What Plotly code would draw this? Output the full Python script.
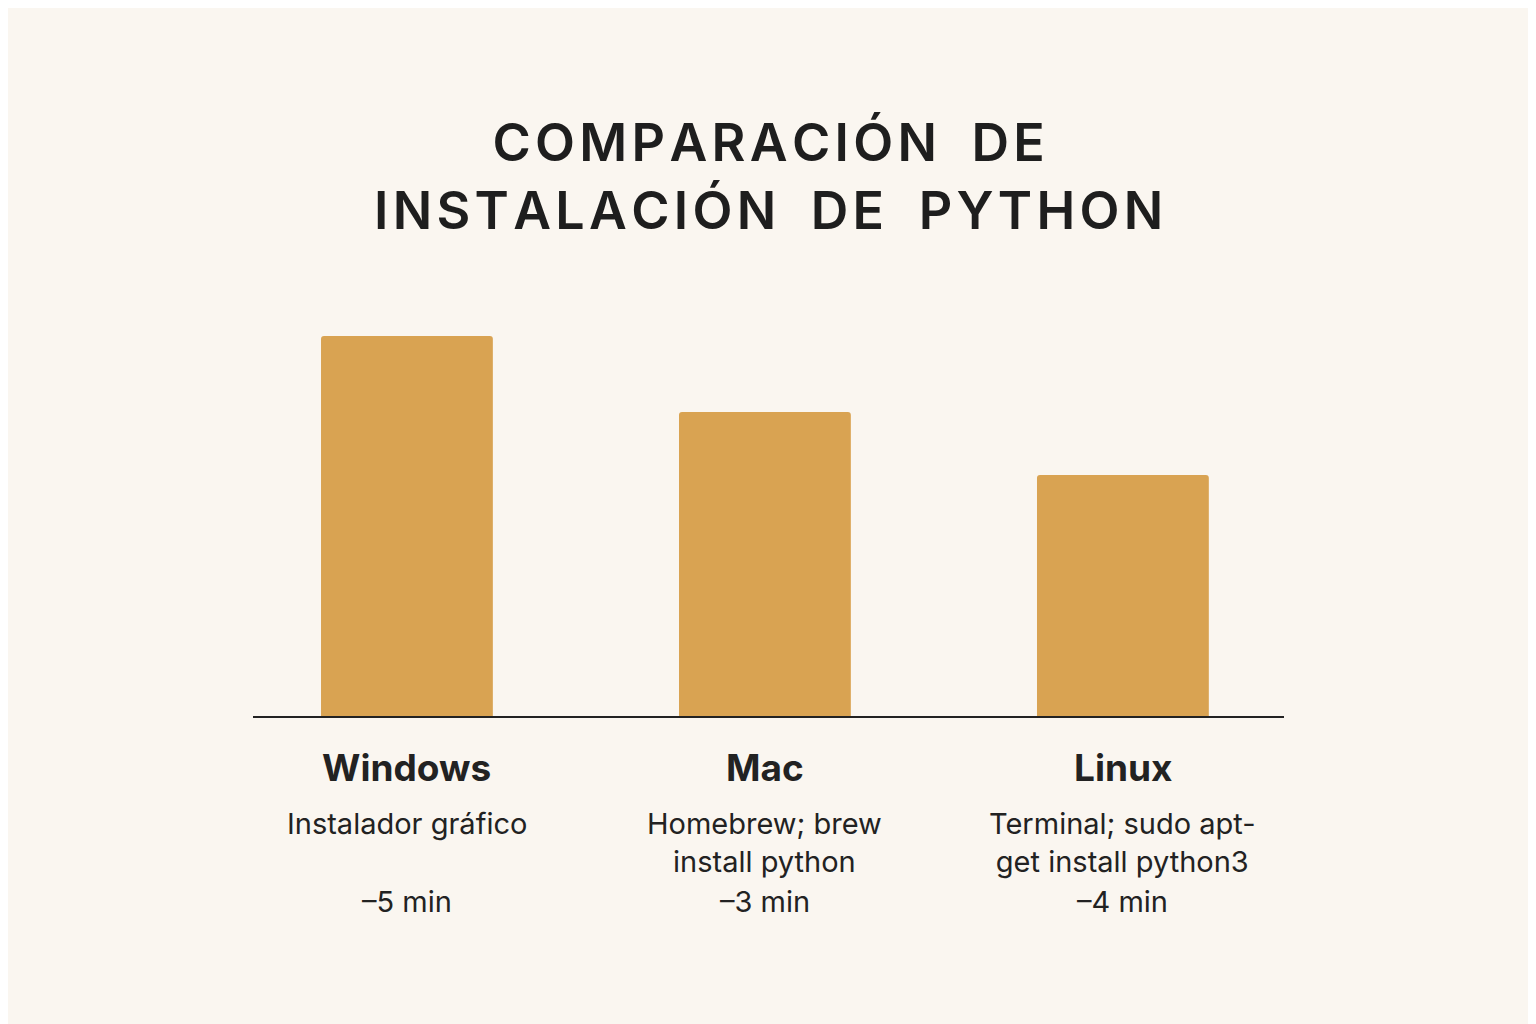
import plotly.graph_objects as go

platforms = ["Windows", "Mac", "Linux"]
bar_heights = [5.0, 4.0, 3.17]
methods = ["Instalador gráfico<br> ", "Homebrew; brew<br>install python", "Terminal; sudo apt-<br>get install python3"]
times = ["–5 min", "–3 min", "–4 min"]
title_lines = ["COMPARACIÓN DE", "INSTALACIÓN DE PYTHON"]

def spaced(s):
    return "\u200a".join(s.replace(" ", "\u2002"))

fig = go.Figure()
fig.add_trace(go.Bar(x=list(range(len(platforms))), y=bar_heights, width=0.48,
                     marker=dict(color="#D9A352", cornerradius=3, line=dict(width=0))))

for i, p in enumerate(platforms):
    fig.add_annotation(x=i, y=0, yref="y", yshift=-51, text="<b>" + p + "</b>", showarrow=False,
                       font=dict(family="Inter", size=37, color="#222"), yanchor="middle")
    fig.add_annotation(x=i, y=0, yref="y", yshift=-126, text=methods[i], showarrow=False,
                       font=dict(family="Inter", size=29, color="#222"), yanchor="middle")
    fig.add_annotation(x=i, y=0, yref="y", yshift=-185, text=times[i], showarrow=False,
                       font=dict(family="Inter", size=29, color="#222"), yanchor="middle")

fig.add_annotation(x=0.5, y=1, xref="paper", yref="paper", yshift=104,
                   text="<br>".join(spaced(t) for t in title_lines),
                   showarrow=False, yanchor="middle",
                   font=dict(family="Inter", size=52, color="#1e1e1e", weight=600))

fig.update_layout(width=1536, height=1024, paper_bgcolor="#FAF6F0", plot_bgcolor="#FAF6F0",
                  margin=dict(l=245, r=260, t=272, b=316), showlegend=False,
                  xaxis=dict(range=[-0.43, 2.45], showticklabels=False, showgrid=False, zeroline=False,
                             showline=True, linecolor="#222", linewidth=1.5, ticks=""),
                  yaxis=dict(range=[0, 5.737], visible=False))
fig.write_html("out.html")
